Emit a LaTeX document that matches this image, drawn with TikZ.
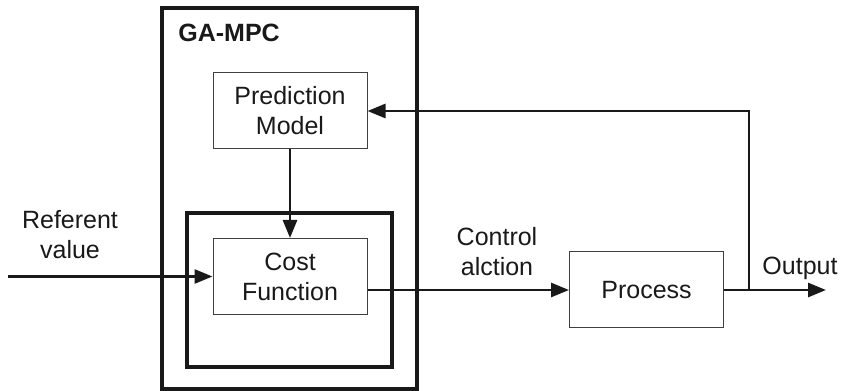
\documentclass[tikz,border=0pt]{standalone}
\usepackage{fontspec}
\setmainfont{Liberation Sans}
\usetikzlibrary{arrows.meta, positioning, calc}

\begin{document}
\begin{tikzpicture}[
  x=0.5pt, y=0.5pt,
  font=\fontsize{12.5}{15}\selectfont,
  every node/.style={text=black!90},
  block/.style={draw=black!75, line width=0.5pt, align=center, minimum width=77pt, minimum height=38pt, inner sep=0pt},
  frame/.style={draw=black!90, line width=1.6pt, inner sep=0pt},
  label/.style={align=center, inner sep=0pt},
  arrow/.style={-{Triangle[length=9pt, width=7pt]}, line width=1.4pt, draw=black!90},
  line/.style={line width=1.4pt, draw=black!90}
]
\useasboundingbox (0,0) rectangle (841,391);
% blocks
\node[block] (pm) at (290,280) {Prediction\\Model};
\node[block] (cf) at (290,114.5) {Cost\\Function};
\node[block] (proc) at (646.5,101) {Process};
% frames
\node[frame, minimum width=102.5pt, minimum height=77pt] (opt) at (289.5,101) {};
\node[frame, minimum width=127.5pt, minimum height=190.5pt] (mpc) at (289.5,192.5) {};
\node[anchor=west, inner sep=0pt, font=\fontsize{12.5}{15}\selectfont\bfseries] (title) at (178,358) {GA-MPC};
% signals
\coordinate (in) at (8,114.5);
\coordinate (out) at (826,101);
\coordinate (branch) at (749,101);
\node[label] (ref) at (70,156) {Referent\\value};
\node[label] (ctrl) at (497,139) {Control\\alction};
\node[label] (outlbl) at (800,123) {Output};
\draw[arrow] (in) -- (cf.west);
\draw[arrow] (pm.south) -- (cf.north);
\draw[arrow] (cf.east |- proc.west) -- (proc.west);
\draw[arrow] (proc.east) -- (out);
\draw[arrow] (branch) |- (pm.east);
\end{tikzpicture}
\end{document}
